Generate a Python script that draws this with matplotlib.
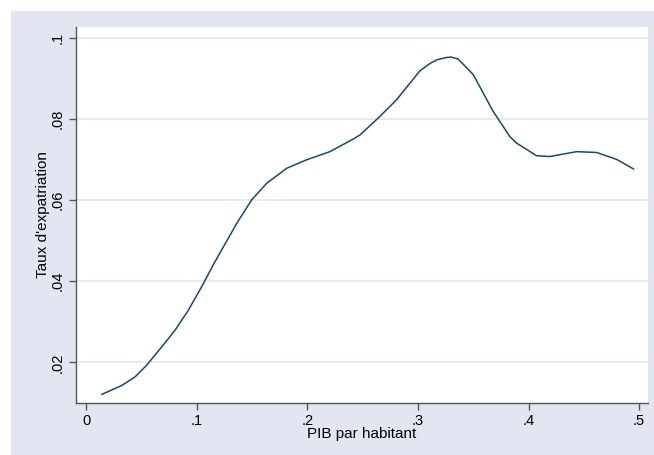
import matplotlib
matplotlib.use("Agg")
import matplotlib.pyplot as plt

# values
pib = [0.0139, 0.0320, 0.0440, 0.0546, 0.0682, 0.0802, 0.0922, 0.1043, 0.1148,
       0.1220, 0.1360, 0.1495, 0.1631, 0.1812, 0.1993, 0.2203, 0.2414, 0.2475,
       0.2656, 0.2807, 0.2866, 0.3017, 0.3108, 0.3168, 0.3259, 0.3300, 0.3363,
       0.3499, 0.3680, 0.3741, 0.3831, 0.3892, 0.4072, 0.4193, 0.4434, 0.4615,
       0.4796, 0.4855, 0.4952]
taux = [0.0121, 0.0143, 0.0164, 0.0193, 0.0238, 0.0279, 0.0328, 0.0386, 0.0440,
        0.0475, 0.0542, 0.0600, 0.0641, 0.0678, 0.0699, 0.0719, 0.0750, 0.0760,
        0.0806, 0.0847, 0.0867, 0.0918, 0.0936, 0.0945, 0.0951, 0.0952, 0.0947,
        0.0909, 0.0818, 0.0793, 0.0756, 0.0740, 0.0709, 0.0707, 0.0719, 0.0717,
        0.0700, 0.0691, 0.0676]

xticks = [0, 0.1, 0.2, 0.3, 0.4, 0.5]
xlabels = ["0", ".1", ".2", ".3", ".4", ".5"]
yticks = [0.02, 0.04, 0.06, 0.08, 0.1]
ylabels = [".02", ".04", ".06", ".08", ".1"]

plt.rcParams['font.family'] = ['Liberation Sans', 'DejaVu Sans']

W, H = 654, 455
fig = plt.figure(figsize=(W / 100, H / 100), dpi=100)
fig.patch.set_facecolor("white")

bg = "#E2E6F0"
# graph region (starts a little inside the image, like the original export)
fig.patches.append(plt.Rectangle((11 / W, 0), 1 - 11 / W, 1 - 11 / H,
                                 transform=fig.transFigure, facecolor=bg,
                                 edgecolor="none", zorder=-10))

ax = fig.add_axes([76 / W, 1 - 403 / H, (648 - 76) / W, (403 - 27) / H])
ax.set_facecolor("white")

ax.plot(pib, taux, color="#1A476F", linewidth=1.1,
        solid_joinstyle="round", solid_capstyle="round")

ax.set_xlim(-0.0093, 0.508)
ax.set_ylim(0.0100, 0.1026)

ax.set_xticks(xticks)
ax.set_xticklabels(xlabels)
ax.set_yticks(yticks)
ax.set_yticklabels(ylabels, rotation=90, va="center")

ax.grid(axis="y", color="#E1E6F0", linewidth=1.2)
ax.set_axisbelow(True)

for side in ["top", "right"]:
    ax.spines[side].set_visible(False)
for side in ["left", "bottom"]:
    ax.spines[side].set_color("#555555")
    ax.spines[side].set_linewidth(1.0)

ax.tick_params(axis="both", direction="out", length=5, width=1.0,
               color="#555555", labelsize=10.5, pad=3)

ax.set_xlabel("PIB par habitant", fontsize=11, labelpad=-1)
ax.set_ylabel("Taux d'expatriation", fontsize=11, labelpad=1)

fig.savefig("out.png", dpi=100, facecolor=fig.get_facecolor())
